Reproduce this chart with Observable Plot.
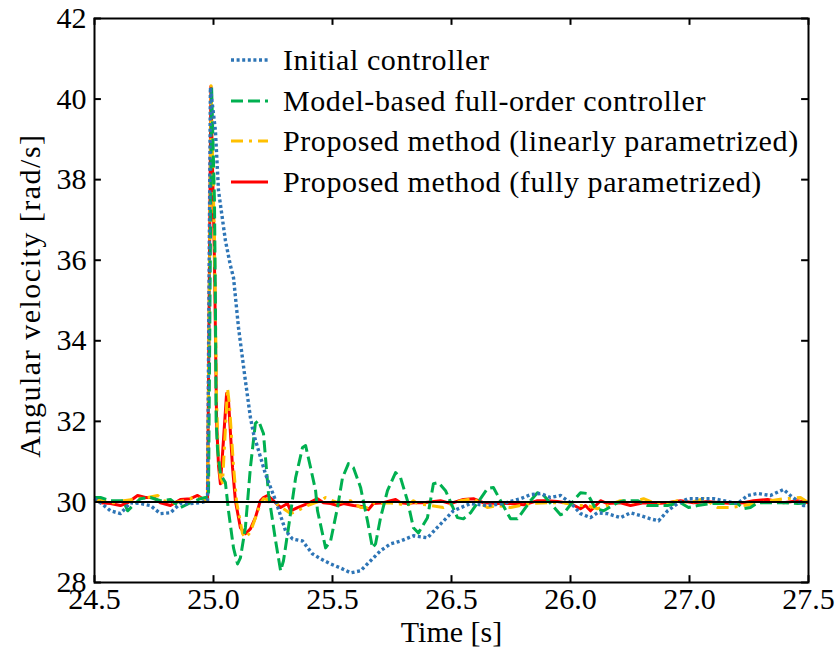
<!DOCTYPE html>
<html>
<head>
<meta charset="utf-8">
<script src="https://cdn.jsdelivr.net/npm/d3@7"></script>
<script src="https://cdn.jsdelivr.net/npm/@observablehq/plot@0.6"></script>
<style>
  html, body { margin: 0; padding: 0; background: #fff; }
  #chart svg { display: block; }
  #chart svg text { font-family: "Liberation Serif", "Times New Roman", serif !important; }
  #chart svg .legend text { letter-spacing: 0.6px; }
  #chart svg .ylab text { letter-spacing: 1.5px; }
</style>
</head>
<body>
<div id="chart"></div>
<script>
// ---- Data (time [s], angular velocity [rad/s]) ----
const seriesNames = [
  "Initial controller",
  "Model-based full-order controller",
  "Proposed method (linearly parametrized)",
  "Proposed method (fully parametrized)"
];

const initialCtrl = [
  [24.500,30.08],[24.525,29.98],[24.567,29.78],[24.609,29.71],[24.651,29.98],[24.693,29.96],
  [24.735,29.91],[24.777,29.71],[24.819,29.73],[24.861,29.96],[24.903,29.96],[24.945,29.98],
  [24.975,30.03],[24.987,40.29],[25.008,39.22],[25.021,37.73],[25.050,36.49],[25.071,35.87],
  [25.084,35.57],[25.105,34.33],[25.134,33.01],[25.155,32.10],[25.168,31.70],[25.218,30.70],
  [25.261,30.03],[25.303,29.28],[25.332,29.08],[25.374,29.03],[25.416,28.71],[25.450,28.59],
  [25.492,28.46],[25.534,28.36],[25.576,28.24],[25.618,28.29],[25.660,28.54],[25.702,28.79],
  [25.744,28.96],[25.786,29.03],[25.840,29.16],[25.899,29.11],[25.954,29.45],[26.008,29.78],
  [26.080,29.96],[26.151,29.91],[26.218,29.96],[26.290,30.08],[26.332,30.18],[26.374,30.21],
  [26.416,30.11],[26.458,30.16],[26.500,29.98],[26.542,29.71],[26.584,29.61],[26.613,29.73],
  [26.655,29.71],[26.710,29.61],[26.752,29.73],[26.794,29.66],[26.836,29.58],[26.870,29.53],
  [26.908,29.78],[26.950,29.96],[26.992,30.08],[27.046,30.08],[27.101,30.08],[27.143,30.03],
  [27.202,29.96],[27.244,30.16],[27.286,30.21],[27.340,30.16],[27.395,30.31],[27.424,30.16],
  [27.479,29.91],[27.500,29.91]
];

const modelBased = [
  [24.500,30.11],[24.525,30.11],[24.567,30.03],[24.622,30.03],[24.639,29.78],[24.693,30.08],
  [24.735,30.11],[24.777,30.03],[24.819,30.06],[24.861,29.86],[24.903,29.98],[24.945,30.08],
  [24.966,30.11],[24.979,30.10],[24.992,40.31],[25.004,37.50],[25.008,35.00],[25.011,32.00],
  [25.017,31.30],[25.029,30.70],[25.038,30.60],[25.050,30.48],[25.063,29.78],[25.084,28.86],
  [25.101,28.46],[25.113,28.61],[25.134,29.36],[25.155,30.85],[25.176,31.95],[25.189,32.02],
  [25.210,31.70],[25.231,30.21],[25.261,29.03],[25.282,28.29],[25.294,28.54],[25.315,29.36],
  [25.345,30.60],[25.374,31.35],[25.387,31.40],[25.408,30.85],[25.429,30.28],[25.437,29.78],
  [25.471,28.86],[25.492,29.03],[25.521,29.86],[25.542,30.60],[25.567,30.95],[25.588,30.85],
  [25.618,30.36],[25.647,29.53],[25.668,28.86],[25.681,28.96],[25.702,29.61],[25.731,30.28],
  [25.765,30.73],[25.786,30.60],[25.815,30.03],[25.840,29.36],[25.861,29.23],[25.899,29.61],
  [25.924,30.45],[25.945,30.48],[25.975,30.28],[26.025,29.61],[26.050,29.58],[26.080,29.73],
  [26.151,30.33],[26.176,30.36],[26.206,30.03],[26.248,29.58],[26.277,29.58],[26.332,30.03],
  [26.361,30.23],[26.385,30.18],[26.458,29.68],[26.471,29.71],[26.513,30.03],[26.542,30.23],
  [26.571,30.21],[26.592,29.98],[26.605,29.83],[26.639,29.78],[26.697,29.98],[26.723,30.03],
  [26.782,30.03],[26.824,29.91],[26.866,29.91],[26.908,29.91],[26.962,29.98],[26.996,29.86],
  [27.034,29.91],[27.088,29.96],[27.143,29.96],[27.202,29.96],[27.227,29.83],[27.256,29.86],
  [27.286,29.98],[27.340,29.98],[27.395,29.98],[27.454,29.96],[27.500,29.98]
];

const linearParam = [
  [24.500,30.08],[24.538,30.03],[24.580,29.98],[24.622,30.03],[24.681,30.08],[24.723,30.11],
  [24.765,30.16],[24.790,30.03],[24.832,29.98],[24.874,30.03],[24.916,30.11],[24.958,30.08],
  [24.975,30.03],[24.990,40.33],[25.004,36.50],[25.013,32.50],[25.021,31.00],[25.029,30.60],
  [25.038,30.48],[25.059,32.82],[25.067,32.40],[25.084,30.90],[25.097,30.00],[25.122,29.21],
  [25.134,29.11],[25.155,29.25],[25.176,29.60],[25.197,29.96],[25.210,30.08],[25.248,30.03],
  [25.294,29.83],[25.324,29.71],[25.353,29.78],[25.395,29.91],[25.450,30.03],[25.471,30.11],
  [25.500,30.03],[25.521,29.98],[25.576,30.03],[25.618,29.86],[25.647,29.86],[25.672,29.98],
  [25.702,29.96],[25.731,29.98],[25.773,29.96],[25.815,29.91],[25.840,30.03],[25.857,29.96],
  [25.912,29.91],[25.966,29.86],[26.038,30.03],[26.092,30.08],[26.151,29.86],[26.193,29.91],
  [26.248,29.86],[26.332,29.96],[26.403,29.98],[26.471,29.98],[26.529,29.91],[26.571,29.91],
  [26.613,29.83],[26.655,29.91],[26.710,30.03],[26.752,29.98],[26.807,30.08],[26.849,29.98],
  [26.908,29.96],[26.950,30.03],[27.004,29.98],[27.059,30.08],[27.118,29.86],[27.172,29.86],
  [27.227,29.91],[27.286,29.96],[27.340,30.03],[27.395,30.08],[27.466,30.11],[27.500,29.98]
];

const fullParam = [
  [24.500,30.08],[24.525,29.98],[24.567,29.96],[24.609,29.91],[24.639,29.98],[24.681,30.16],
  [24.714,30.11],[24.748,30.11],[24.777,29.98],[24.819,29.91],[24.861,30.06],[24.903,30.08],
  [24.933,30.16],[24.954,30.08],[24.975,30.03],[24.989,40.31],[25.004,36.00],[25.013,32.00],
  [25.021,30.90],[25.029,30.45],[25.038,31.20],[25.055,32.69],[25.063,32.52],[25.080,30.85],
  [25.092,30.03],[25.113,29.36],[25.134,29.21],[25.155,29.33],[25.176,29.61],[25.197,30.03],
  [25.210,30.11],[25.227,30.16],[25.252,30.03],[25.282,29.86],[25.311,29.96],[25.324,29.78],
  [25.353,29.86],[25.395,29.96],[25.437,30.08],[25.462,29.98],[25.492,29.96],[25.521,29.91],
  [25.546,29.96],[25.588,29.91],[25.630,29.88],[25.651,29.81],[25.672,29.96],[25.714,29.98],
  [25.744,30.03],[25.765,30.06],[25.786,29.98],[25.815,29.96],[25.840,29.98],[25.882,29.98],
  [25.954,30.03],[25.996,29.96],[26.050,30.06],[26.092,30.08],[26.134,29.98],[26.193,29.96],
  [26.248,29.96],[26.303,29.93],[26.361,30.03],[26.403,30.03],[26.445,30.01],[26.500,29.96],
  [26.542,29.83],[26.563,29.91],[26.584,29.78],[26.626,30.03],[26.655,29.96],[26.710,29.98],
  [26.752,29.91],[26.807,29.98],[26.866,29.96],[26.908,29.98],[26.962,30.03],[27.017,29.98],
  [27.076,30.01],[27.130,29.98],[27.185,29.96],[27.227,29.98],[27.269,30.03],[27.328,30.06],
  [27.395,29.98],[27.454,30.03],[27.500,29.98]
];

const referenceLevel = [30];

const xTickValues = [24.5, 25.0, 25.5, 26.0, 26.5, 27.0, 27.5];
const xTickLabels = ["24.5", "25.0", "25.5", "26.5", "26.0", "27.0", "27.5"];
const yTickValues = [28, 30, 32, 34, 36, 38, 40, 42];
const xLabel = "Time [s]";
const yLabel = "Angular velocity [rad/s]";

// ---- Styles ----
const FONT = "Liberation Serif, Times New Roman, serif";
const colors = ["#2e75b6", "#00b050", "#ffc000", "#ff0000"];
const dashes = ["3,2.6", "12,5", "12,6,3,6", null];
const widths = [3.4, 3, 3, 3];
const xDomain = [24.5, 27.5];
const yDomain = [28, 42];
const tickLenX = 0.029; // inward tick length in x units (~7px)
const tickLenY = 0.17;  // inward tick length in y units (~7px)

const series = [initialCtrl, modelBased, linearParam, fullParam];
const drawOrder = [3, 2, 1, 0]; // red bottom, blue top

const lineMarks = drawOrder.map(i =>
  Plot.line(series[i], {
    x: d => d[0], y: d => d[1],
    stroke: colors[i], strokeWidth: widths[i],
    strokeDasharray: dashes[i] || undefined,
    strokeLinejoin: "round", strokeLinecap: "butt",
    curve: "linear"
  })
);

const fmtX = d => {
  const i = xTickValues.findIndex(v => Math.abs(v - d) < 1e-9);
  return i >= 0 ? xTickLabels[i] : "";
};

const svg = Plot.plot({
  width: 837,
  height: 655,
  marginLeft: 94,
  marginRight: 29,
  marginTop: 18,
  marginBottom: 73,
  style: { fontFamily: FONT, fontSize: "30px", color: "black", background: "white", overflow: "visible" },
  x: { domain: xDomain },
  y: { domain: yDomain },
  marks: [
    ...lineMarks,
    Plot.ruleY(referenceLevel, { stroke: "black", strokeWidth: 2 }),
    // inward ticks
    Plot.ruleX(xTickValues, { x: d => d, y1: yDomain[0], y2: yDomain[0] + tickLenY, stroke: "black", strokeWidth: 2 }),
    Plot.ruleX(xTickValues, { x: d => d, y1: yDomain[1], y2: yDomain[1] - tickLenY, stroke: "black", strokeWidth: 2 }),
    Plot.ruleY(yTickValues, { y: d => d, x1: xDomain[0], x2: xDomain[0] + tickLenX, stroke: "black", strokeWidth: 2 }),
    Plot.ruleY(yTickValues, { y: d => d, x1: xDomain[1], x2: xDomain[1] - tickLenX, stroke: "black", strokeWidth: 2 }),
    Plot.frame({ stroke: "black", strokeWidth: 2 }),
    Plot.axisX({ ticks: xTickValues, tickFormat: fmtX, tickSize: 0, tickPadding: 5, label: null, fontSize: 30, fontFamily: FONT }),
    Plot.axisY({ ticks: yTickValues, tickSize: 0, tickPadding: 8, label: null, fontSize: 30, fontFamily: FONT }),
    Plot.text([xLabel], { frameAnchor: "bottom", dy: 50, lineAnchor: "middle", textAnchor: "middle", fontSize: 30, fontFamily: FONT, fill: "black" }),
    Plot.text([yLabel], { frameAnchor: "left", dx: -64, dy: -5, rotate: -90, lineAnchor: "middle", textAnchor: "middle", fontSize: 30, fontFamily: FONT, fill: "black", className: "ylab" })
  ]
});

// ---- Legend (inside plot, upper left) ----
const leg = d3.select(svg).append("g")
  .attr("class", "legend")
  .attr("font-family", FONT).attr("font-size", 30).attr("text-anchor", "start");
const rowY = [60, 101, 141, 182];
seriesNames.forEach((name, i) => {
  const g = leg.append("g").attr("transform", `translate(0,${rowY[i]})`);
  g.append("line")
    .attr("x1", 231).attr("x2", 268).attr("y1", 0).attr("y2", 0)
    .attr("stroke", colors[i]).attr("stroke-width", widths[i])
    .attr("stroke-dasharray", dashes[i] || null);
  g.append("text")
    .attr("x", 283).attr("y", 10)
    .attr("text-anchor", "start")
    .attr("fill", "black")
    .text(name);
});

document.getElementById("chart").appendChild(svg);
</script>
</body>
</html>
